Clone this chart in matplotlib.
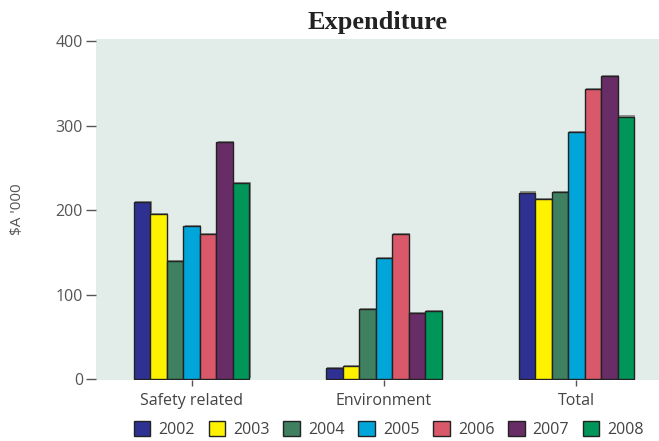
import matplotlib.pyplot as plt
import matplotlib.patheffects as pe
import numpy as np

categories = ['Safety related', 'Environment', 'Total']
years = ['2002', '2003', '2004', '2005', '2006', '2007', '2008']
values = {
    '2002': [210, 13, 221],
    '2003': [196, 16, 213],
    '2004': [140, 83, 222],
    '2005': [181, 143, 293],
    '2006': [172, 172, 344],
    '2007': [281, 78, 359],
    '2008': [232, 81, 311],
}
colors = ['#2e3192', '#fff200', '#3f8060', '#00a6da', '#d9596a', '#682d66', '#00965a']

plt.rcParams['font.family'] = ['Open Sans', 'DejaVu Sans']

fig = plt.figure(figsize=(6.59, 4.41), dpi=100)
ax = fig.add_axes([0.145, 0.138, 0.855, 0.774])
ax.set_facecolor('#e2ece9')

x = np.arange(len(categories))
w = 0.0858
shadow = [pe.SimplePatchShadow(offset=(0.8, 0.8), shadow_rgbFace='#555555', alpha=0.6), pe.Normal()]
for i, yr in enumerate(years):
    bars = ax.bar(x + (i - 3) * w, values[yr], w, color=colors[i], edgecolor='#222222',
                  linewidth=1.0, label=yr, zorder=3)
    for b in bars:
        b.set_path_effects(shadow)

ax.set_xlim(-0.5, 2.43)
ax.set_ylim(-1, 403)
ax.set_yticks([0, 100, 200, 300, 400])
ax.set_xticks(x)
ax.set_xticklabels(categories)
for s in ax.spines.values():
    s.set_visible(False)
ax.tick_params(axis='y', length=7, width=1, color='#555555', labelcolor='#555555', labelsize=11.5, pad=2)
ax.tick_params(axis='x', length=4, width=1, color='#555555', labelcolor='#444444', labelsize=11.5, pad=5)
ax.set_ylabel("$A '000", color='#555555', fontsize=11, labelpad=22)

ax.set_title('Expenditure', fontfamily='Liberation Serif', fontweight='bold', fontsize=19, pad=7, color='#222222')

leg = fig.legend(loc='lower center', bbox_to_anchor=(0.59, -0.025), ncol=7, frameon=False,
                 fontsize=11.5, handlelength=1.05, handleheight=1.05, handletextpad=0.5,
                 columnspacing=0.85, labelcolor='#444444')
for h in leg.legend_handles:
    h.set_path_effects([])

fig.savefig('out.png', dpi=100)
